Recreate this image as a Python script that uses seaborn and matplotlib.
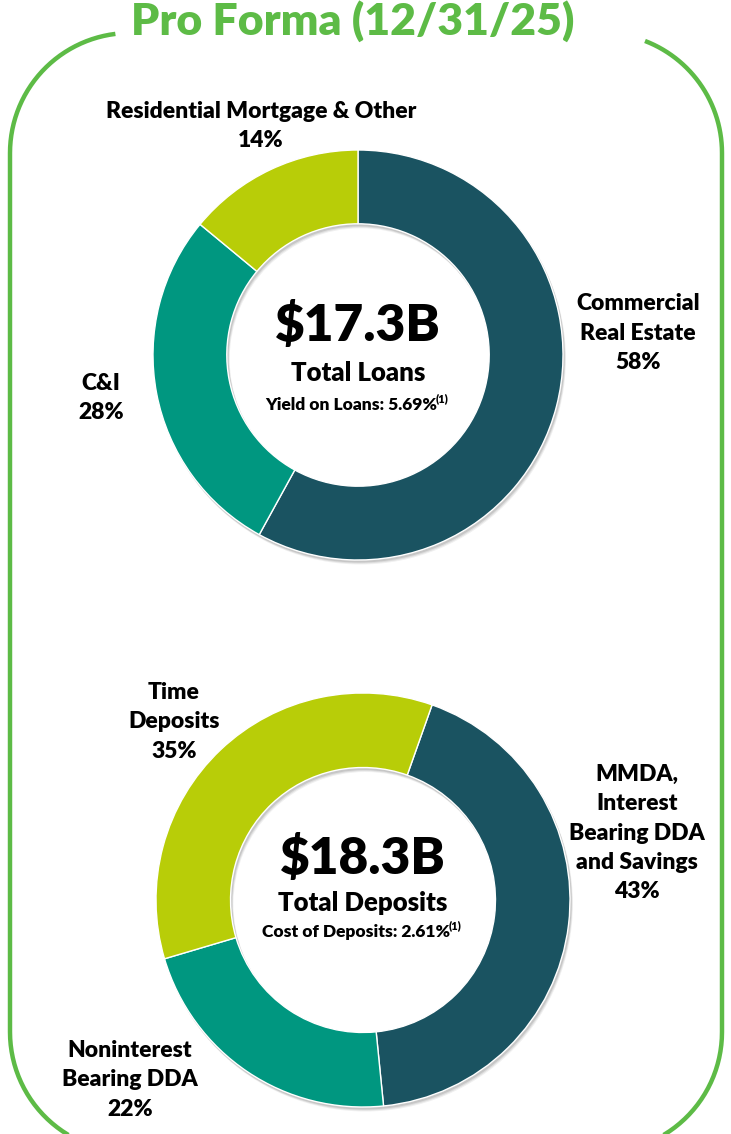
import numpy as np
import matplotlib.pyplot as plt
import seaborn as sns
from matplotlib.path import Path
from matplotlib.patches import PathPatch, Wedge

# data
loan_labels = ["Commercial\nReal Estate\n58%", "C&I\n28%", "Residential Mortgage & Other\n14%"]
loan_share = [58, 28, 14]
dep_labels = ["MMDA,\nInterest\nBearing DDA\nand Savings\n43%", "Noninterest\nBearing DDA\n22%", "Time\nDeposits\n35%"]
dep_share = [43, 22, 35]

slice_colors = ["#1a5361", "#009780", "#b8cd08"]
green = "#5dbb46"

sns.set_theme(style="white")
plt.rcParams['font.family'] = ['Lato', 'DejaVu Sans']
plt.rcParams['text.color'] = 'black'

W, H = 731, 1134
fig = plt.figure(figsize=(W / 100, H / 100), dpi=100)
ax = fig.add_axes([0, 0, 1, 1])


def Y(y):
    # image rows (top-down) to axes coords
    return H - y


# green rounded frame, open at the top for the title
left, right, top, bottom, r = 10, 722, 33, 1152, 120
pts = []
a = np.linspace(np.deg2rad(69), 0, 30)
pts += list(zip(right - r + r * np.cos(a), Y(top + r) + r * np.sin(a)))
a = np.linspace(0, -np.pi / 2, 30)
pts += list(zip(right - r + r * np.cos(a), Y(bottom - r) + r * np.sin(a)))
a = np.linspace(-np.pi / 2, -np.pi, 30)
pts += list(zip(left + r + r * np.cos(a), Y(bottom - r) + r * np.sin(a)))
a = np.linspace(np.pi, np.deg2rad(97), 30)
pts += list(zip(left + r + r * np.cos(a), Y(top + r) + r * np.sin(a)))
ax.add_patch(PathPatch(Path(pts), fill=False, edgecolor=green, lw=3.2))

ax.text(353, Y(21), "Pro Forma (12/31/25)", ha='center', va='center',
        fontsize=32, color=green, fontweight='heavy')


def donut(cx, cy, rad, shares, start):
    # soft shadow under the ring
    for k, al in [(4, 0.06), (3, 0.08), (2, 0.10)]:
        ax.add_patch(Wedge((cx + k * 0.6, Y(cy) - k), rad + 0.5, 0, 360,
                           width=rad * 0.36 + 1, color='black', alpha=al, lw=0))
    ax.pie(shares, colors=slice_colors, startangle=start, counterclock=False,
           center=(cx, Y(cy)), radius=rad, frame=True,
           wedgeprops=dict(width=rad * 0.36, edgecolor='white', linewidth=1))


donut(358, 355, 205, loan_share, 90)
donut(363, 900, 207, dep_share, 70.5)
ax.set_xlim(0, W)
ax.set_ylim(0, H)
ax.set_aspect('equal')
ax.axis('off')

lab = dict(ha='center', va='center', fontsize=16.5, fontweight='heavy',
           color='black', linespacing=1.48)
ax.text(638, Y(333), loan_labels[0], **lab)
ax.text(101, Y(398), loan_labels[1], **lab)
ax.text(261, Y(126), loan_labels[2], **lab)
ax.text(637, Y(833), dep_labels[0], **lab)
ax.text(130, Y(1080), dep_labels[1], **lab)
ax.text(174, Y(722), dep_labels[2], **lab)


def centre_block(cx, big, mid, small, y_big, y_mid, y_small):
    ax.text(cx, Y(y_big), big, ha='center', va='center', fontsize=37, fontweight='heavy', color='black')
    ax.text(cx, Y(y_mid), mid, ha='center', va='center', fontsize=18.5, fontweight='heavy', color='black')
    t = ax.text(cx, Y(y_small), small, ha='left', va='center', fontsize=12.5, fontweight='heavy', color='black')
    s = ax.text(cx, Y(y_small - 6), "(1)", ha='left', va='center', fontsize=8, fontweight='heavy', color='black')
    fig.canvas.draw()
    rend = fig.canvas.get_renderer()
    w1 = t.get_window_extent(rend).width
    w2 = s.get_window_extent(rend).width
    x0 = cx - (w1 + w2) / 2
    t.set_x(x0)
    s.set_x(x0 + w1 - 2)


centre_block(358, "\\$17.3B", "Total Loans", "Yield on Loans: 5.69%", 325, 373, 405)
centre_block(363, "\\$18.3B", "Total Deposits", "Cost of Deposits: 2.61%", 858, 903, 932)

fig.savefig("out.png", dpi=100)
